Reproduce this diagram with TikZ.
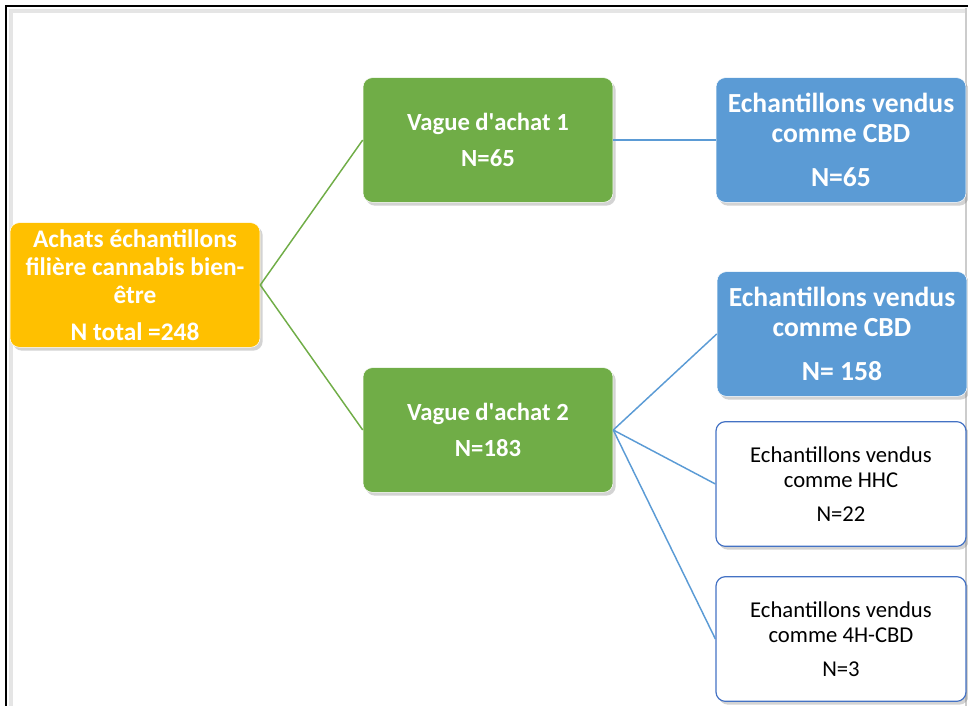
\documentclass[tikz,border=0pt]{standalone}
\usepackage{fontspec}
\setmainfont{Carlito}
\usepackage{xcolor}
\usepackage{tikz}
\usetikzlibrary{positioning, shadows}
\definecolor{rootcolor}{RGB}{255, 192, 0}
\definecolor{wavecolor}{RGB}{112, 173, 71}
\definecolor{soldcolor}{RGB}{91, 155, 213}
\definecolor{edgecolor}{RGB}{68, 114, 196}

\begin{document}
\begin{tikzpicture}[
    x=0.75pt, y=-0.75pt,
    box/.style={rounded corners=7pt, minimum width=187.5pt, minimum height=93.5pt, align=center, text=white,
        drop shadow={shadow xshift=2pt, shadow yshift=-2.5pt, opacity=0.35}},
    root/.style={box, draw=white, fill=rootcolor, font=\bfseries\fontsize{19}{21}\selectfont},
    wave/.style={box, draw=white, fill=wavecolor, font=\bfseries\fontsize{18.5}{22}\selectfont},
    soldbold/.style={box, draw=white, fill=soldcolor, font=\bfseries\fontsize{20.7}{22.5}\selectfont},
    sold/.style={box, draw=edgecolor, line width=0.9pt, fill=white, text=black, font=\fontsize{17}{18.75}\selectfont},
    greenlink/.style={draw=wavecolor, line width=1.1pt},
    bluelink/.style={draw=soldcolor, line width=1.1pt}
]
    \useasboundingbox (0,0) rectangle (968,706);
    % Frame
    \draw[gray!20, line width=3pt] (11,706) -- (11,11) -- (966,11);
    \draw[gray!40, line width=0.8pt] (966,8) -- (966,706);
    \draw[black, line width=2pt] (6,706) -- (6,6) -- (968,6);

    % Boxes
    \node[root] (achats) at (135, 285) {Achats échantillons\\filière cannabis bien-\\être\\[7pt]N total =248};
    \node[wave] (vague1) at (488, 140) {Vague d\textquotesingle achat 1\\[5pt]N=65};
    \node[wave] (vague2) at (488, 430) {Vague d\textquotesingle achat 2\\[5pt]N=183};
    \node[soldbold] (cbd1) at (841, 140) {Echantillons vendus\\comme CBD\\[10pt]N=65};
    \node[soldbold] (cbd2) at (842, 334) {Echantillons vendus\\comme CBD\\[10pt]N= 158};
    \node[sold] (hhc) at (841, 484) {Echantillons vendus\\comme HHC\\[7pt]N=22};
    \node[sold] (hcbd) at (841, 639) {Echantillons vendus\\comme 4H-CBD\\[7pt]N=3};

    % Links
    \draw[greenlink] (achats.east) -- (vague1.west);
    \draw[greenlink] (achats.east) -- (vague2.west);
    \draw[bluelink] (vague1.east) -- (cbd1.west);
    \draw[bluelink] (vague2.east) -- (cbd2.west);
    \draw[bluelink] (vague2.east) -- (hhc.west);
    \draw[bluelink] (vague2.east) -- (hcbd.west);
\end{tikzpicture}
\end{document}
